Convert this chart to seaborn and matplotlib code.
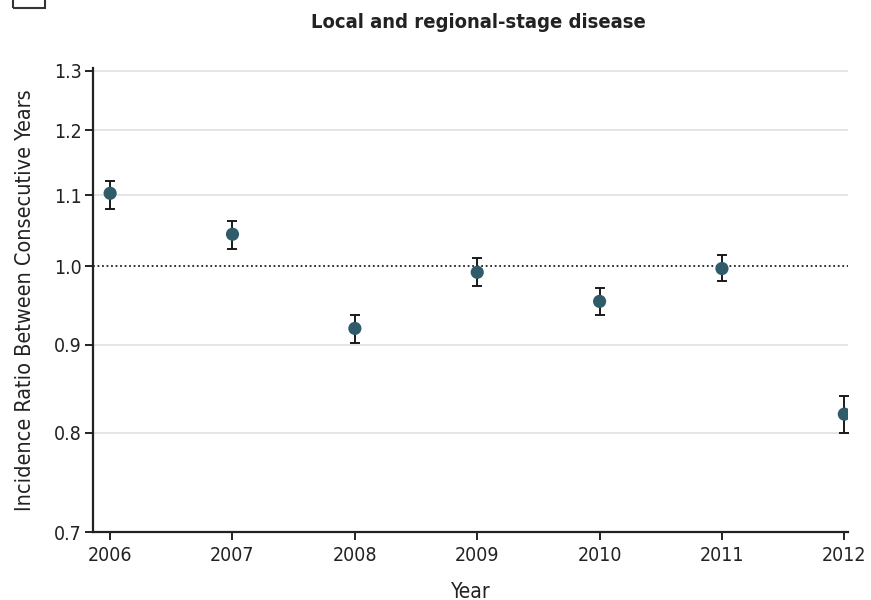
import matplotlib
matplotlib.use("Agg")
import matplotlib.pyplot as plt
import matplotlib.ticker as mticker
from matplotlib.patches import Rectangle
import seaborn as sns
import pandas as pd

years = [2006, 2007, 2008, 2009, 2010, 2011, 2012]
ratio = [1.103, 1.044, 0.920, 0.992, 0.954, 0.997, 0.820]
ci_low = [1.080, 1.024, 0.902, 0.974, 0.937, 0.980, 0.800]
ci_high = [1.122, 1.062, 0.937, 1.011, 0.971, 1.015, 0.840]
yticks = [0.7, 0.8, 0.9, 1.0, 1.1, 1.2, 1.3]
ytick_labels = ["0.7", "0.8", "0.9", "1.0", "1.1", "1.2", "1.3"]

df = pd.DataFrame({"Year": years, "Ratio": ratio, "Low": ci_low, "High": ci_high})

sns.set_style("white")
plt.rcParams["font.family"] = ["DejaVu Sans"]
plt.rcParams["font.stretch"] = "condensed"

fig = plt.figure(figsize=(8.71, 6.0), dpi=100)
ax = fig.add_axes([93 / 871, 1 - 532 / 600, (848 - 93) / 871, (532 - 68) / 600])

ax.set_yscale("log")
ax.set_ylim(0.7, 1.305)
ax.set_xlim(2005.86, 2012.03)

for t in yticks[1:]:
    if t == 1.0:
        ax.axhline(t, color="#222222", lw=1.3, ls=(0, (1, 1.5)), zorder=1)
    else:
        ax.axhline(t, color="#e3e3e3", lw=1.3, zorder=0)

ax.errorbar(df["Year"], df["Ratio"],
            yerr=[df["Ratio"] - df["Low"], df["High"] - df["Ratio"]],
            fmt="none", ecolor="#1a1a1a", elinewidth=1.4, capsize=3.5, capthick=1.4, zorder=2)
sns.scatterplot(data=df, x="Year", y="Ratio", ax=ax, color="#2f5b6b", s=90,
                edgecolor="none", zorder=3, legend=False)

ax.yaxis.set_major_locator(mticker.FixedLocator(yticks))
ax.yaxis.set_major_formatter(mticker.FixedFormatter(ytick_labels))
ax.yaxis.set_minor_locator(mticker.NullLocator())
ax.set_xticks(years)
ax.set_xticklabels([str(y) for y in years])

for s in ["top", "right"]:
    ax.spines[s].set_visible(False)
for s in ["left", "bottom"]:
    ax.spines[s].set_color("#222222")
    ax.spines[s].set_linewidth(1.6)

ax.tick_params(axis="both", which="major", direction="out", length=6, width=1.4,
               color="#222222", labelsize=14, labelcolor="#222222", left=True, bottom=True)
ax.tick_params(axis="y", pad=2)
ax.tick_params(axis="x", pad=4)

ax.set_xlabel("Year", fontsize=15, color="#222222", labelpad=12)
ax.set_ylabel("Incidence Ratio Between Consecutive Years", fontsize=15.5, color="#222222", labelpad=14)

fig.text(478 / 871, 1 - 22 / 600, "Local and regional-stage disease", ha="center", va="center",
         fontsize=14.5, fontweight="bold", color="#222222")

fig.patches.append(Rectangle((13 / 871, 1 - 8 / 600), 32 / 871, 30 / 600, transform=fig.transFigure,
                             fill=False, edgecolor="#333333", lw=1.5))

fig.savefig("out.png", dpi=100)
